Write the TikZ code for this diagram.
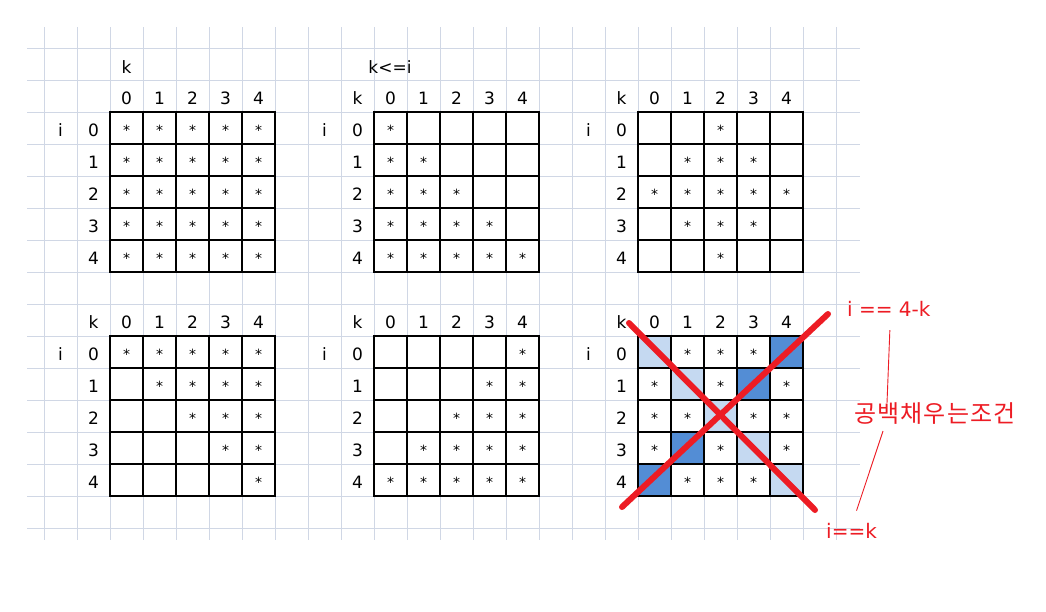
\documentclass[tikz,border=0pt]{standalone}
\usepackage{fontspec}
\setmainfont{DejaVu Sans}
\newfontfamily\kofont[LetterSpace=5]{Noto Sans CJK KR}
\definecolor{sheetgrid}{HTML}{D0D7E5}
\definecolor{lightcell}{HTML}{C5D9F1}
\definecolor{darkcell}{HTML}{538DD5}
\definecolor{markred}{HTML}{ED1C24}
\begin{document}
\begin{tikzpicture}[x=1pt,y=-1pt,
    num/.style={font=\fontsize{17}{17}\selectfont,inner sep=0pt,anchor=base},
    ast/.style={font=\fontsize{14}{14}\selectfont,inner sep=0pt,anchor=base},
    sheet/.style={draw=sheetgrid,line width=1pt},
    box/.style={draw=black,line width=1.1pt},
    note/.style={text=markred,font=\fontsize{20}{20}\selectfont,inner sep=0pt},
    xline/.style={draw=markred,line width=6pt,line cap=round},
    lead/.style={draw=markred,line width=0.9pt}]
  \fill[white] (0,0) rectangle (1046,611);
  \useasboundingbox (0,0) rectangle (1046,611);
  % spreadsheet background
  \foreach \x in {0,...,24}
    \draw[sheet] (44+33*\x,27) -- (44+33*\x,540);
  \foreach \y in {0,...,15}
    \draw[sheet] (27,48+32*\y) -- (860,48+32*\y);
  % shading of the last table
  \foreach \r in {0,...,4}
    \fill[lightcell] (638+33*\r,336+32*\r) rectangle ++(33,32);
  \foreach \r in {0,1,3,4}
    \fill[darkcell] (638+33*\r,336+32*4-32*\r) rectangle ++(33,32);
  % tables with their headings
  \foreach \X/\Y in {110/112,374/112,638/112,110/336,374/336,638/336} {
    \foreach \r in {0,...,4}
      \foreach \c in {0,...,4}
        \draw[box] (\X+33*\c,\Y+32*\r) rectangle ++(33,32);
    \foreach \n in {0,...,4} {
      \node[num] (col\X\Y\n) at (\X+33*\n+16.5,\Y-8) {\n};
      \node[num] (row\X\Y\n) at (\X-16.5,\Y+32*\n+24) {\n};
    }
    \node[num] (i\X\Y) at (\X-49.5,\Y+24) {i};
  }
  \node[num] (ka) at (126.5,73) {k};
  \node[num] (kb) at (357.5,104) {k};
  \node[num] (kc) at (621.5,104) {k};
  \node[num] (kd) at (93.5,328) {k};
  \node[num] (ke) at (357.5,328) {k};
  \node[num] (kf) at (621.5,328) {k};
  \node[num] (cond) at (390,73) {k<=i};
  % stars
  \foreach \r in {0,...,4}
    \foreach \c in {0,...,4}
      \node[ast] (sa\r\c) at (110+33*\c+16.5,112+32*\r+23) {*};
  \foreach \r in {0,...,4}
    \foreach \c in {0,...,\r}
      \node[ast] (sb\r\c) at (374+33*\c+16.5,112+32*\r+23) {*};
  \foreach \r/\a/\b in {0/2/2,1/1/3,2/0/4,3/1/3,4/2/2}
    \foreach \c in {\a,...,\b}
      \node[ast] (sc\r\c) at (638+33*\c+16.5,112+32*\r+23) {*};
  \foreach \r in {0,...,4}
    \foreach \c in {\r,...,4}
      \node[ast] (sd\r\c) at (110+33*\c+16.5,336+32*\r+23) {*};
  \foreach \r [evaluate=\r as \s using int(4-\r)] in {0,...,4}
    \foreach \c in {\s,...,4}
      \node[ast] (se\r\c) at (374+33*\c+16.5,336+32*\r+23) {*};
  \foreach \r/\c in {0/1,0/2,0/3,1/0,1/2,1/4,2/0,2/1,2/3,2/4,3/0,3/2,3/4,4/1,4/2,4/3}
    \node[ast] (sf\r\c) at (638+33*\c+16.5,336+32*\r+23) {*};
  % red cross and notes
  \coordinate (xa) at (629,323);
  \coordinate (xb) at (815,510);
  \coordinate (xc) at (828,314);
  \coordinate (xd) at (622,507);
  \draw[xline] (xa) -- (xb);
  \draw[xline] (xc) -- (xd);
  \node[note,anchor=base west] (anti) at (847,316) {i == 4-k};
  \node[note,font=\kofont\fontsize{24}{24}\selectfont] (blank) at (935,414) {공백채우는조건};
  \node[note,anchor=base west] (diag) at (826,538) {i==k};
  \draw[lead] ([xshift=1pt,yshift=-14pt]anti.south) -- ([xshift=-48pt]blank.north);
  \draw[lead] ([xshift=-52pt,yshift=-6pt]blank.south) -- ([xshift=5pt,yshift=12pt]diag.north);
\end{tikzpicture}
\end{document}
